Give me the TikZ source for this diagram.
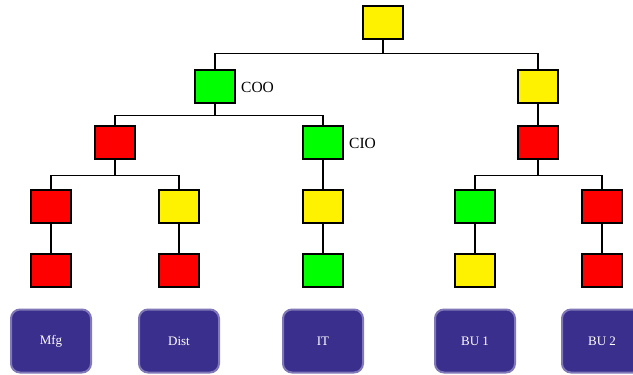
\documentclass[tikz,border=0pt]{standalone}
\usepackage{fontspec}
\setmainfont{Liberation Serif}
\begin{document}
\begin{tikzpicture}[x=1pt,y=-1pt,
  box/.style={draw=black,line width=2pt,minimum width=40pt,minimum height=33pt,inner sep=0pt},
  yel/.style={box,fill=yellow},
  grn/.style={box,fill=green},
  rd/.style={box,fill=red},
  unit/.style={draw=unitborder,line width=2pt,fill=unitfill,rounded corners=9pt,minimum width=80pt,minimum height=63pt,text=white,font=\fontsize{13}{15}\selectfont,inner sep=0pt},
  conn/.style={line width=1.6pt},
  lbl/.style={font=\fontsize{15.5}{17}\selectfont,anchor=west,inner sep=0pt}]
\definecolor{unitfill}{HTML}{3A2F8C}
\definecolor{unitborder}{HTML}{8078B8}
\useasboundingbox (0,0) rectangle (633,375);
\fill[white] (0,0) rectangle (633,375);
% nodes
\node[yel] (top) at (383,22) {};
\node[grn] (coo) at (215,86) {};
\node[yel] (r1) at (538,86) {};
\node[rd] (l2a) at (115,142) {};
\node[grn] (cio) at (323,142) {};
\node[rd] (r2) at (538,142) {};
\node[rd] (a3) at (51,206) {};
\node[yel] (b3) at (179,206) {};
\node[yel] (c3) at (323,206) {};
\node[grn] (d3) at (475,206) {};
\node[rd] (e3) at (602,206) {};
\node[rd] (a4) at (51,270) {};
\node[rd] (b4) at (179,270) {};
\node[grn] (c4) at (323,270) {};
\node[yel] (d4) at (475,270) {};
\node[rd] (e4) at (602,270) {};
\node[lbl] (coolbl) at (241,87) {COO};
\node[lbl] (ciolbl) at (349,143) {CIO};
% units
\node[unit] (mfg) at (51,341) {Mfg};
\node[unit] (dist) at (179,341) {Dist};
\node[unit] (it) at (323,341) {IT};
\node[unit] (bu1) at (475,341) {BU 1};
\node[unit] (bu2) at (602,341) {BU 2};
% connectors
\draw[conn] (top.south) -- ++(0,14) -| (coo.north);
\draw[conn] (top.south) -- ++(0,14) -| (r1.north);
\draw[conn] (coo.south) -- ++(0,12) -| (l2a.north);
\draw[conn] (coo.south) -- ++(0,12) -| (cio.north);
\draw[conn] (r1.south) -- (r2.north);
\draw[conn] (l2a.south) -- ++(0,16) -| (a3.north);
\draw[conn] (l2a.south) -- ++(0,16) -| (b3.north);
\draw[conn] (cio.south) -- (c3.north);
\draw[conn] (r2.south) -- ++(0,16) -| (d3.north);
\draw[conn] (r2.south) -- ++(0,16) -| (e3.north);
\draw[conn] (a3.south) -- (a4.north);
\draw[conn] (b3.south) -- (b4.north);
\draw[conn] (c3.south) -- (c4.north);
\draw[conn] (d3.south) -- (d4.north);
\draw[conn] (e3.south) -- (e4.north);
\end{tikzpicture}
\end{document}
